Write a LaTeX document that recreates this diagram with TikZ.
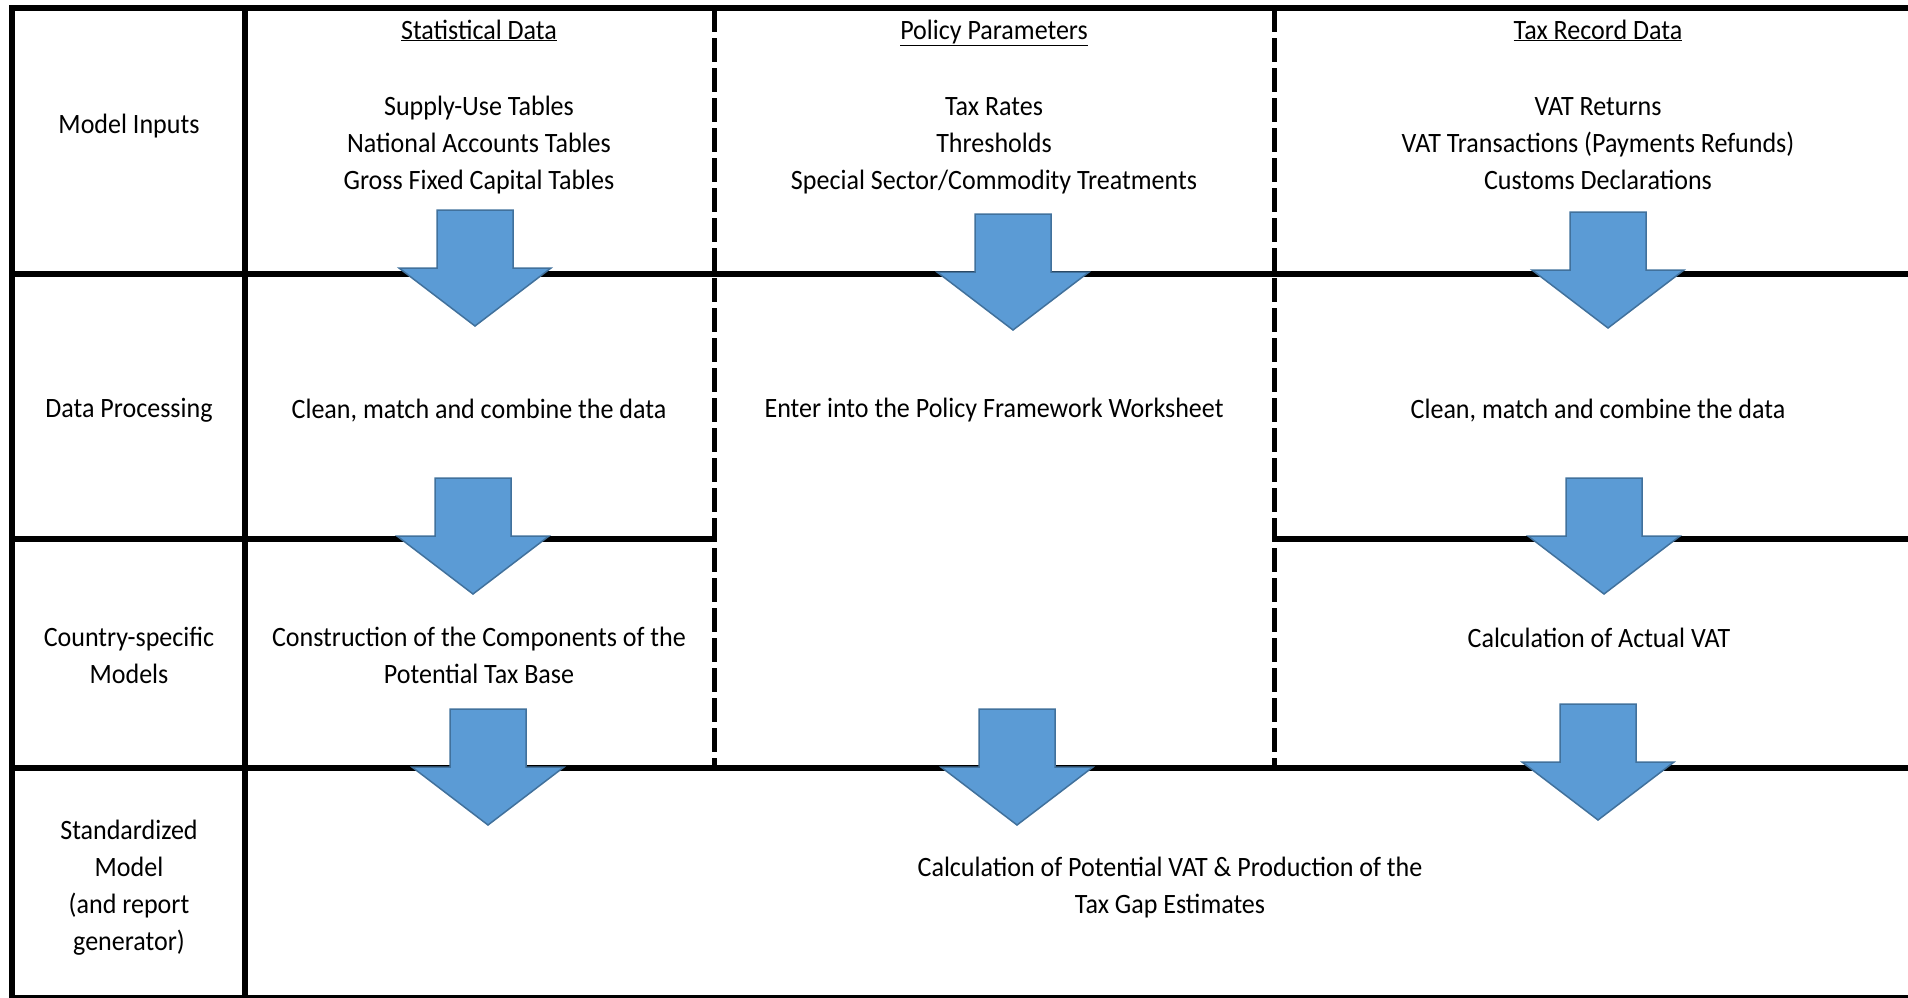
\documentclass[tikz,border=0pt]{standalone}
\usepackage{fontspec}
\setmainfont{Carlito}[FakeStretch=0.93]
\definecolor{arrowblue}{HTML}{5B9BD5}
\definecolor{arrowedge}{HTML}{41719C}
\tikzset{
	celltext/.style={align=center, inner sep=0pt, yshift=-2.5pt, font=\fontsize{28}{37}\selectfont},
	headtext/.style={celltext, anchor=base, yshift=0pt},
	gridline/.style={line width=5.5pt},
	dashline/.style={line width=5pt, dash pattern=on 24pt off 6pt},
	blockarrow/.style={fill=arrowblue, draw=arrowedge, line width=1.5pt}
}
\begin{document}
\begin{tikzpicture}[x=1pt, y=-1pt]
			\useasboundingbox (0,0) rectangle (1908,997);
			% table frame and rows
			\draw[gridline] (1908,8) -- (12,8) -- (12,998) -- (1908,998);
			\draw[gridline] (245,8) -- (245,998);
			\draw[gridline] (12,274) -- (1908,274);
			\draw[gridline] (12,768) -- (1908,768);
			\draw[gridline] (12,539) -- (714,539);
			\draw[gridline] (1274,539) -- (1908,539);
			\draw[dashline] (714,8) -- (714,768);
			\draw[dashline] (1274,8) -- (1274,768);
			
			% row labels
			\node[celltext] (inputs) at (129,124) {Model Inputs};
			\node[celltext] (processing) at (129,408) {Data Processing};
			\node[celltext] (country) at (129,653) {Country-specific\\Models};
			\node[celltext] (standard) at (129,885) {Standardized\\Model\\(and report\\generator)};
			
			% column headers and inputs
			\node[headtext] (statdata) at (479,36.5) {\underline{Statistical Data}};
			\node[headtext] (policy) at (994,36.5) {\underline{Policy Parameters}};
			\node[headtext] (taxrec) at (1598,36.5) {\underline{Tax Record Data}};
			\node[celltext] (statin) at (479,143) {Supply-Use Tables\\National Accounts Tables\\Gross Fixed Capital Tables};
			\node[celltext] (policyin) at (994,143) {Tax Rates\\Thresholds\\Special Sector/Commodity Treatments};
			\node[celltext] (taxin) at (1598,141) {VAT Returns\\VAT Transactions (Payments Refunds)\\Customs Declarations};
			
			% processing and models
			\node[celltext] (statproc) at (479,408) {Clean, match and combine the data};
			\node[celltext] (policyproc) at (994,408) {Enter into the Policy Framework Worksheet};
			\node[celltext] (taxproc) at (1598,408) {Clean, match and combine the data};
			\node[celltext] (statmodel) at (479,653) {Construction of the Components of the\\Potential Tax Base};
			\node[celltext] (taxmodel) at (1599,635) {Calculation of Actual VAT};
			\node[celltext] (gapest) at (1170,885) {Calculation of Potential VAT \& Production of the\\Tax Gap Estimates};
			
			% block arrows
			\foreach \x/\y in {475/210, 1013/214, 1608/212, 473/478, 1604/478, 488/709, 1017/709, 1598/704}
			{
				\draw[blockarrow] (\x-38,\y) -- (\x+38,\y) -- (\x+38,\y+58) -- (\x+76,\y+58) -- (\x,\y+116) -- (\x-76,\y+58) -- (\x-38,\y+58) -- cycle;
			}
		\end{tikzpicture}
\end{document}
